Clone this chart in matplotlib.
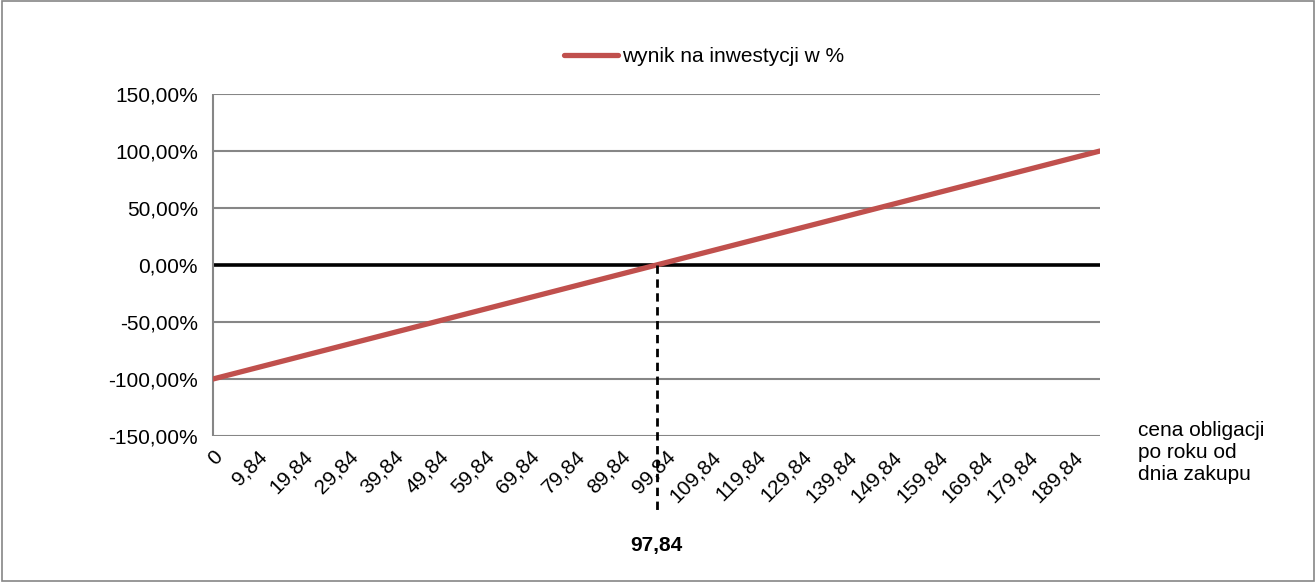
import matplotlib
matplotlib.use('Agg')
import matplotlib.pyplot as plt
from matplotlib.patches import Rectangle

plt.rcParams['font.family'] = ['Liberation Sans', 'DejaVu Sans']

# data: the return is a straight line
prices = [0, 97.84, 195.68]
returns = [-1.0, 0.0, 1.0]
breakeven = 97.84
breakeven_label = '97,84'

x_ticks = [0, 9.84, 19.84, 29.84, 39.84, 49.84, 59.84, 69.84, 79.84, 89.84,
           99.84, 109.84, 119.84, 129.84, 139.84, 149.84, 159.84, 169.84,
           179.84, 189.84]
x_labels = ['0', '9,84', '19,84', '29,84', '39,84', '49,84', '59,84', '69,84',
            '79,84', '89,84', '99,84', '109,84', '119,84', '129,84', '139,84',
            '149,84', '159,84', '169,84', '179,84', '189,84']
y_ticks = [-1.5, -1.0, -0.5, 0.0, 0.5, 1.0, 1.5]
y_labels = ['-150,00%', '-100,00%', '-50,00%', '0,00%', '50,00%', '100,00%',
            '150,00%']

series_name = 'wynik na inwestycji w %'
x_title = 'cena obligacji\npo roku od\ndnia zakupu'

fs = 15

fig = plt.figure(figsize=(13.16, 5.82), dpi=100)
ax = fig.add_axes([0.1619, 0.2509, 0.674, 0.5876])

# gridlines
for y in y_ticks:
    if y == 0:
        continue
    ax.axhline(y, color='#868686', lw=1.5, zorder=1)
ax.axhline(0, color='black', lw=2.6, zorder=2)

line, = ax.plot(prices, returns, color='#C0504D', lw=3.8,
                solid_capstyle='round', zorder=3, label=series_name)

# dashed break-even marker, going below the axis
ax.plot([breakeven, breakeven], [0, -2.16], color='black', lw=2,
        ls=(0, (3, 2)), clip_on=False, zorder=4)
ax.text(breakeven, -2.46, breakeven_label, ha='center', va='center',
        fontsize=fs, fontweight='bold')

ax.set_xlim(0, 195.68)
ax.set_ylim(-1.5, 1.5)
ax.set_xticks(x_ticks)
ax.set_xticklabels(x_labels, rotation=45, ha='right', va='top',
                   rotation_mode='anchor', fontsize=fs)
ax.set_yticks(y_ticks)
ax.set_yticklabels(y_labels, fontsize=fs)
ax.tick_params(axis='both', length=0)
ax.tick_params(axis='y', pad=11)
ax.tick_params(axis='x', pad=8)

for side in ['top', 'right', 'bottom']:
    ax.spines[side].set_visible(False)
ax.spines['left'].set_color('#868686')
ax.spines['left'].set_linewidth(1.5)
ax.spines['left'].set_capstyle('butt')

fig.text(1138 / 1316, 1 - 421 / 582, x_title, ha='left', va='top',
         fontsize=fs, linespacing=1.2)

fig.legend(handles=[line], loc='center', bbox_to_anchor=(704 / 1316, 1 - 57 / 582),
           frameon=False, fontsize=fs, handlelength=2.6, handletextpad=0.15)

# outer border of the chart area
fig.patches.append(Rectangle((0.0015, 0.002), 0.997, 0.996, transform=fig.transFigure,
                             fill=False, edgecolor='#868686', lw=1.2))

fig.savefig('out.png', dpi=100)
